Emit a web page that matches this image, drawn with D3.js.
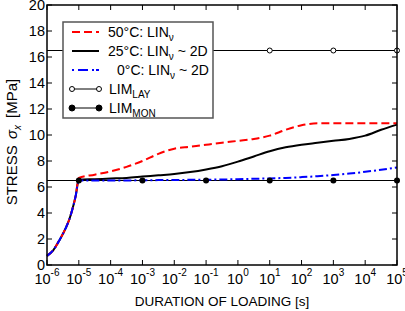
<!DOCTYPE html>
<html lang="en">
<head>
<meta charset="UTF-8">
<title>Stress vs duration of loading</title>
<script src="https://d3js.org/d3.v7.min.js"></script>
<style>
    body { margin: 0; background: #fff; }
    svg { display: block; font-family: "Liberation Sans", Arial, sans-serif; }
    .tick-label { font-size: 14.5px; fill: #000; }
    .axis-title { font-size: 13.5px; fill: #000; }
    .legend-text { font-size: 14px; fill: #000; }
</style>
</head>
<body>
<svg id="chart" width="405" height="311"></svg>
<script>
// durations are given as log10 of seconds
const riseExp  = [-6, -5.8, -5.6, -5.4, -5.3, -5.2, -5.1];
const riseVals = [0.7, 1.15, 1.95, 2.9, 3.5, 4.3, 5.3];

const curveExp = [-5, -4.5, -4, -3.5, -3, -2.5, -2, -1.5, -1, -0.5, 0, 0.5, 1, 1.5, 2, 2.5, 3, 3.5, 4, 4.5, 5];
const hot50    = [6.7, 6.95, 7.2, 7.55, 8.0, 8.55, 8.95, 9.1, 9.25, 9.4, 9.55, 9.7, 9.95, 10.4, 10.75, 10.9, 10.9, 10.9, 10.9, 10.9, 10.9];
const mid25    = [6.55, 6.6, 6.65, 6.7, 6.8, 6.9, 7.0, 7.15, 7.35, 7.6, 7.95, 8.35, 8.75, 9.05, 9.25, 9.4, 9.55, 9.7, 9.95, 10.4, 10.8];
const cold0    = [6.5, 6.5, 6.5, 6.5, 6.52, 6.53, 6.54, 6.55, 6.56, 6.58, 6.6, 6.63, 6.66, 6.7, 6.76, 6.83, 6.92, 7.03, 7.17, 7.33, 7.5];

const limExp = [-5, -3, -1, 1, 3, 5];
const limLay = 16.5;
const limMon = 6.5;

const xTicks = [-6, -5, -4, -3, -2, -1, 0, 1, 2, 3, 4, 5];
const yTicks = [0, 2, 4, 6, 8, 10, 12, 14, 16, 18, 20];

const svg = d3.select("#chart");
const margin = { top: 5, right: 8, bottom: 46, left: 47 };
const W = 405 - margin.left - margin.right;
const H = 311 - margin.top - margin.bottom;

const g = svg.append("g").attr("transform", `translate(${margin.left},${margin.top})`);

const x = d3.scaleLog().domain([1e-6, 1e5]).range([0, W]);
const y = d3.scaleLinear().domain([0, 20]).range([H, 0]);

const toPts = (ex, vals) => ex.map((e, i) => [Math.pow(10, e), vals[i]]);
const line = d3.line().x(d => x(d[0])).y(d => y(d[1])).curve(d3.curveMonotoneX);

// limit lines
[limLay, limMon].forEach(v => {
    g.append("line")
        .attr("x1", 0).attr("x2", W)
        .attr("y1", y(v)).attr("y2", y(v))
        .attr("stroke", "#000").attr("stroke-width", 1);
});

// curves
const series = [
    { vals: mid25, color: "#000", dash: null },
    { vals: hot50, color: "#f00", dash: "8,4" },
    { vals: cold0, color: "#00f", dash: "8,3,2,3" }
];
series.forEach(s => {
    const pts = toPts(riseExp, riseVals).concat(toPts(curveExp, s.vals));
    g.append("path")
        .attr("d", line(pts))
        .attr("fill", "none")
        .attr("stroke", s.color)
        .attr("stroke-width", 2)
        .attr("stroke-dasharray", s.dash);
});

// markers
g.selectAll(".mon").data(limExp).enter().append("circle")
    .attr("cx", d => x(Math.pow(10, d))).attr("cy", y(limMon))
    .attr("r", 3).attr("fill", "#000");
g.selectAll(".lay").data(limExp).enter().append("circle")
    .attr("cx", d => x(Math.pow(10, d))).attr("cy", y(limLay))
    .attr("r", 2.5).attr("fill", "#fff").attr("stroke", "#000").attr("stroke-width", 1);

// frame and ticks (inside, on all four sides)
g.append("rect").attr("width", W).attr("height", H)
    .attr("fill", "none").attr("stroke", "#000").attr("stroke-width", 1.5);

xTicks.forEach(e => {
    const px = x(Math.pow(10, e));
    g.append("line").attr("x1", px).attr("x2", px).attr("y1", H).attr("y2", H - 5).attr("stroke", "#000");
    g.append("line").attr("x1", px).attr("x2", px).attr("y1", 0).attr("y2", 5).attr("stroke", "#000");
    const t = g.append("text").attr("class", "tick-label")
        .attr("x", px).attr("y", H + 19).attr("text-anchor", "middle");
    t.append("tspan").text("10");
    t.append("tspan").attr("dy", -8).style("font-size", "10px").text(e);
});

yTicks.forEach(v => {
    const py = y(v);
    g.append("line").attr("x1", 0).attr("x2", 5).attr("y1", py).attr("y2", py).attr("stroke", "#000");
    g.append("line").attr("x1", W).attr("x2", W - 5).attr("y1", py).attr("y2", py).attr("stroke", "#000");
    g.append("text").attr("class", "tick-label")
        .attr("x", -2).attr("y", py).attr("dy", "0.36em")
        .attr("text-anchor", "end").text(v);
});

// axis titles
svg.append("text").attr("class", "axis-title")
    .attr("x", margin.left + W / 2).attr("y", 306)
    .attr("text-anchor", "middle")
    .text("DURATION OF LOADING [s]");

const yt = svg.append("text").attr("class", "axis-title")
    .style("font-size", "15px")
    .attr("transform", "translate(17,142) rotate(-90)")
    .attr("text-anchor", "middle");
yt.append("tspan").text("STRESS ");
yt.append("tspan").attr("font-style", "italic").attr("dx", 2).text("σ");
yt.append("tspan").attr("font-style", "italic").style("font-size", "10px").attr("dy", 4).text("x");
yt.append("tspan").attr("dy", -4).attr("dx", 3).text(" [MPa]");

// legend
const lg = svg.append("g");
lg.append("rect").attr("x", 63).attr("y", 22).attr("width", 150).attr("height", 96)
    .attr("fill", "#fff").attr("stroke", "#555").attr("stroke-width", 1.5);

const legendRows = [
    { y: 32, color: "#f00", dash: "8,4", pre: "50°C: LIN", sub: "ν", post: "", tx: 108 },
    { y: 51, color: "#000", dash: null, pre: "25°C: LIN", sub: "ν", post: " ~ 2D", tx: 108 },
    { y: 70, color: "#00f", dash: "2,4,10,4,2", pre: "0°C: LIN", sub: "ν", post: " ~ 2D", tx: 117 },
    { y: 89, color: "#000", marker: "open", pre: "LIM", sub: "LAY", post: "", tx: 109 },
    { y: 108, color: "#000", marker: "filled", pre: "LIM", sub: "MON", post: "", tx: 109 }
];
legendRows.forEach(r => {
    lg.append("line").attr("x1", 72).attr("x2", 99).attr("y1", r.y).attr("y2", r.y)
        .attr("stroke", r.color)
        .attr("stroke-width", r.marker ? 1 : 2)
        .attr("stroke-dasharray", r.dash);
    if (r.marker) {
        [72, 99].forEach(cx => {
            lg.append("circle").attr("cx", cx).attr("cy", r.y)
                .attr("r", r.marker === "open" ? 2.5 : 3)
                .attr("fill", r.marker === "open" ? "#fff" : "#000")
                .attr("stroke", "#000").attr("stroke-width", 1);
        });
    }
    const t = lg.append("text").attr("class", "legend-text")
        .attr("x", r.tx).attr("y", r.y + 5);
    t.append("tspan").text(r.pre);
    t.append("tspan").style("font-size", "10px").attr("dy", 4).text(r.sub);
    if (r.post) t.append("tspan").attr("dy", -4).text(r.post);
});
</script>
</body>
</html>
